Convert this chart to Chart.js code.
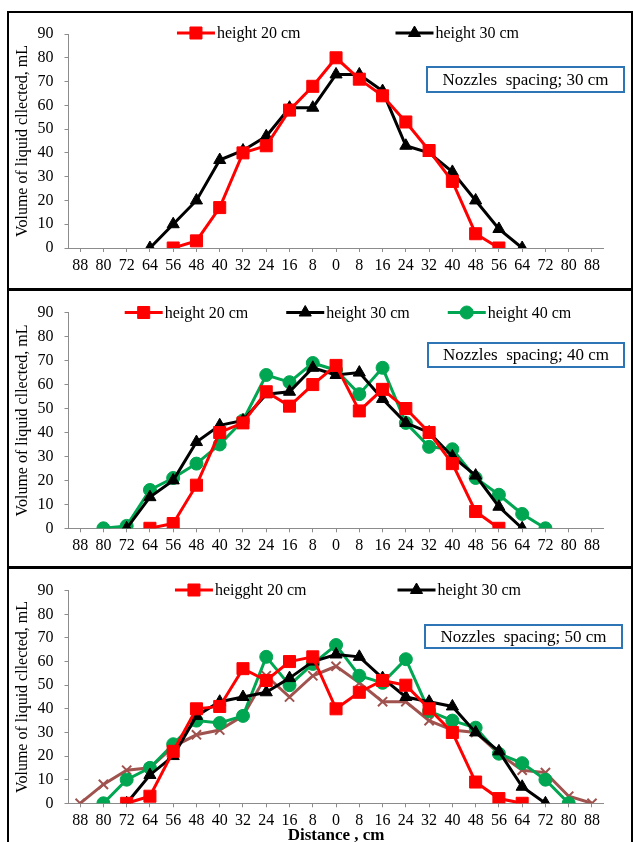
<!DOCTYPE html>
<html><head><meta charset="utf-8">
<script src="https://cdn.jsdelivr.net/npm/chart.js@4.4.1/dist/chart.umd.min.js"></script>
<style>
html,body{margin:0;padding:0;background:#fff;width:633px;height:842px;overflow:hidden;position:relative}
canvas{position:absolute;left:0}
.rule{position:absolute;background:#000}
</style></head><body>
<canvas id="c1" width="633" height="289" style="top:0px"></canvas>
<canvas id="c2" width="633" height="279" style="top:289px"></canvas>
<canvas id="c3" width="633" height="290" style="top:568px"></canvas>
<div class="rule" style="left:7px;top:11px;width:626px;height:2px"></div>
<div class="rule" style="left:7px;top:11px;width:2px;height:831px"></div>
<div class="rule" style="left:631px;top:11px;width:2px;height:831px"></div>
<div class="rule" style="left:7px;top:288px;width:626px;height:3px"></div>
<div class="rule" style="left:7px;top:566px;width:626px;height:3px"></div>
<script>
// ---- data ----
const distances = ['88','80','72','64','56','48','40','32','24','16','8','0','8','16','24','32','40','48','56','64','72','80','88'];
const yTicks = [0,10,20,30,40,50,60,70,80,90];

// Nozzles spacing 30 cm
const s30_h20 = [null,null,null,null,0,3,17,40,43,58,68,80,71,64,53,41,28,6,0,null,null,null,null];
const s30_h30 = [null,null,null,0,10,20,37,41,47,59,59,73,73,66,43,40,32,20,8,0,null,null,null];
// Nozzles spacing 40 cm
const s40_h20 = [null,null,null,0,2,18,40,44,57,51,60,68,49,58,50,40,27,7,0,null,null,null,null];
const s40_h30 = [null,null,0,13,20,36,43,45,56,57,67,64,65,54,44,40,30,22,9,0,null,null,null];
const s40_h40 = [null,0,1,16,21,27,35,45,64,61,69,66,56,67,44,34,33,21,14,6,0,null,null];
// Nozzles spacing 50 cm
const s50_h20 = [null,null,0,3,22,40,41,57,52,60,62,40,47,52,50,40,30,9,2,0,null,null,null];
const s50_h30 = [null,null,0,12,20,37,43,45,47,53,60,63,62,53,45,43,41,30,22,7,0,null,null];
const s50_h40 = [null,0,10,15,25,35,34,37,62,50,59,67,54,51,61,39,35,32,21,17,10,0,null];
const s50_h50 = [0,8,14,15,24,29,31,37,54,45,54,58,51,43,43,35,31,30,21,14,13,3,0];

const panelTitles = ['Nozzles  spacing; 30 cm','Nozzles  spacing; 40 cm','Nozzles  spacing; 50 cm'];
const yTitle = 'Volume of liquid cllected, mL';
const xTitle = 'Distance , cm';

// ---- styles ----
const SERIF = '"Liberation Serif","Times New Roman",serif';
const styles = {
  red:   {borderColor:'#FF0000', pointBackgroundColor:'#FF0000', pointBorderColor:'#FF0000', pointStyle:'rect', pointRadius:8.5},
  black: {borderColor:'#000000', pointBackgroundColor:'#000000', pointBorderColor:'#000000', pointStyle:'triangle', pointRadius:7},
  green: {borderColor:'#00A651', pointBackgroundColor:'#00A651', pointBorderColor:'#00A651', pointStyle:'circle', pointRadius:6.5},
  brown: {borderColor:'#A0524E', pointBackgroundColor:'#A0524E', pointBorderColor:'#A0524E', pointStyle:'crossRot', pointRadius:6.5, pointBorderWidth:2}
};
function ds(label, data, st, inLegend){
  return Object.assign({label, data, borderWidth:3, tension:0, pointBorderWidth:1, showInLegend:inLegend, fill:false}, styles[st]);
}

const overlayPlugin = {
  id:'overlay',
  afterDraw(chart, args, o){
    const ctx = chart.ctx;
    ctx.save();
    // legend
    ctx.font = '16px ' + SERIF;
    const items = chart.data.datasets.filter(d=>d.showInLegend);
    const lineLen = 38;
    const widths = items.map(d=> lineLen + 2 + ctx.measureText(d.label).width);
    const total = widths.reduce((a,b)=>a+b,0) + o.legendGap*(items.length-1);
    let x = o.legendCenter - total/2;
    const y = o.legendY;
    items.forEach((d,k)=>{
      ctx.strokeStyle = d.borderColor; ctx.lineWidth = d.borderWidth;
      ctx.beginPath(); ctx.moveTo(x,y); ctx.lineTo(x+lineLen,y); ctx.stroke();
      ctx.fillStyle = d.pointBackgroundColor; ctx.strokeStyle = d.pointBorderColor; ctx.lineWidth = d.pointBorderWidth||1;
      if (Chart.helpers && Chart.helpers.drawPoint) {
        Chart.helpers.drawPoint(ctx, {pointStyle:d.pointStyle, radius:d.pointRadius, rotation:0, borderWidth:d.pointBorderWidth||1}, x+lineLen/2, y);
      }
      ctx.fillStyle = '#000'; ctx.textBaseline = 'middle'; ctx.textAlign = 'left';
      ctx.fillText(d.label, x+lineLen+2, y+1);
      x += widths[k] + o.legendGap;
    });
    // annotation box
    const b = o.box;
    ctx.fillStyle = '#fff';
    ctx.fillRect(b.x, b.y, b.w, b.h);
    ctx.strokeStyle = '#2E75B6'; ctx.lineWidth = 2;
    ctx.strokeRect(b.x, b.y, b.w, b.h);
    ctx.fillStyle = '#000'; ctx.font = '17px ' + SERIF; ctx.textAlign = 'center'; ctx.textBaseline = 'middle';
    ctx.fillText(o.boxText, b.x + b.w/2, b.y + b.h/2 + 1);
    ctx.restore();
  }
};

function makeChart(id, datasets, cfg){
  const xScale = {
    type:'category', offset:true,
    grid:{display:true, drawOnChartArea:false, offset:false, tickLength:4, color:'#8c8c8c', tickColor:'#8c8c8c'},
    border:{display:true, color:'#8c8c8c', width:1},
    ticks:{font:{family:SERIF, size:16}, color:'#000', padding:4, autoSkip:false, maxRotation:0, minRotation:0},
    afterFit(s){ s.height = cfg.xHeight; },
    title: cfg.showX ? {display:true, text:xTitle, font:{family:SERIF, size:17, weight:'bold'}, color:'#000', padding:{top:0,bottom:12}} : {display:false}
  };
  const yScale = {
    min:0, max:90,
    afterBuildTicks(s){ s.ticks = yTicks.map(v=>({value:v})); },
    grid:{display:true, drawOnChartArea:false, tickLength:4, color:'#8c8c8c', tickColor:'#8c8c8c'},
    border:{display:true, color:'#8c8c8c', width:1},
    ticks:{font:{family:SERIF, size:16}, color:'#000', padding:11},
    title:{display:true, text:yTitle, font:{family:SERIF, size:16}, color:'#000', padding:{top:13,bottom:0}},
    afterFit(s){ s.width = 68.5; }
  };
  return new Chart(document.getElementById(id), {
    type:'line',
    data:{labels:distances, datasets},
    options:{
      responsive:false, animation:false, devicePixelRatio:1,
      layout:{padding:{top:cfg.padTop, right:29.4, bottom:0, left:0}},
      plugins:{legend:{display:false}, tooltip:{enabled:false},
        overlay:{legendCenter:348, legendY:cfg.legendY, legendGap:cfg.legendGap, box:cfg.box, boxText:cfg.boxText}},
      scales:{x:xScale, y:yScale}
    },
    plugins:[overlayPlugin]
  });
}

makeChart('c1', [
  ds('height 20 cm', s30_h20, 'red', true),
  ds('height 30 cm', s30_h30, 'black', true)
], {padTop:34, xHeight:41, legendY:33, legendGap:95, box:{x:427,y:67,w:197,h:25}, boxText:panelTitles[0]});

makeChart('c2', [
  ds('height 20 cm', s40_h20, 'red', true),
  ds('height 30 cm', s40_h30, 'black', true),
  ds('height 40 cm', s40_h40, 'green', true)
], {padTop:23.7, xHeight:39.7, legendY:23.5, legendGap:38, box:{x:428,y:54,w:196,h:24}, boxText:panelTitles[1]});

makeChart('c3', [
  ds('heigght 20 cm', s50_h20, 'red', true),
  ds('height 30 cm', s50_h30, 'black', true),
  ds('height 40 cm', s50_h40, 'green', false),
  ds('height 50 cm', s50_h50, 'brown', false)
], {padTop:22.7, xHeight:54.7, legendY:22, legendGap:91, showX:true, box:{x:425,y:57,w:197,h:23}, boxText:panelTitles[2]});
</script>
</body></html>
